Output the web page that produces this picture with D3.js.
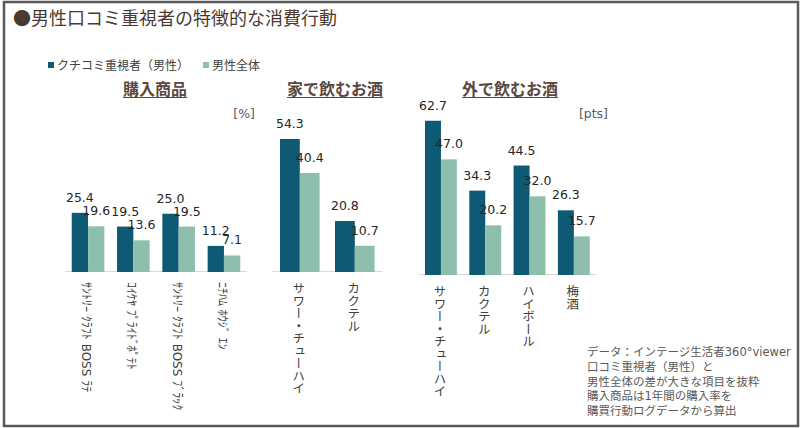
<!DOCTYPE html>
<html>
<head>
<meta charset="utf-8">
<script src="https://cdn.jsdelivr.net/npm/d3@7"></script>
<style>
	body { margin: 0; background: #fff; }
	text { font-family: "DejaVu Sans", "Noto Sans CJK JP", sans-serif; }
	.vlabel { writing-mode: vertical-rl; }
</style>
</head>
<body>
<svg id="chart" width="800" height="428"></svg>
<script>
// data
const seriesNames = ["クチコミ重視者（男性）", "男性全体"];

const goodsCats = ["ｻﾝﾄﾘｰ ｸﾗﾌﾄ BOSS ﾗﾃ", "ｺｲｹﾔ ﾌﾟﾗｲﾄﾞﾎﾟﾃﾄ", "ｻﾝﾄﾘｰ ｸﾗﾌﾄ BOSS ﾌﾞﾗｯｸ", "ﾆﾁﾊﾑ ﾎｳｼﾞ ｴﾝ"];
const goodsKuchikomi = [25.4, 19.5, 25.0, 11.2];
const goodsAll = [19.6, 13.6, 19.5, 7.1];

const homeCats = ["サワー・チューハイ", "カクテル"];
const homeKuchikomi = [54.3, 20.8];
const homeAll = [40.4, 10.7];

const outCats = ["サワー・チューハイ", "カクテル", "ハイボール", "梅酒"];
const outKuchikomi = [62.7, 34.3, 44.5, 26.3];
const outAll = [47.0, 20.2, 32.0, 15.7];

const panelTitles = ["購入商品", "家で飲むお酒", "外で飲むお酒"];
const unitLabels = ["[%]", "", "[pts]"];

const noteLines = [
	"データ：インテージ生活者360°viewer",
	"口コミ重視者（男性）と",
	"男性全体の差が大きな項目を抜粋",
	"購入商品は1年間の購入率を",
	"購買行動ログデータから算出"
];

const colors = ["#0e5a74", "#8ebfac"];
const brown = "#4b3a32";
const fmt = d3.format(".1f");

const svg = d3.select("#chart");

// frame
svg.append("rect")
	.attr("x", 4).attr("y", 2).attr("width", 794).attr("height", 424)
	.attr("fill", "none").attr("stroke", "#595959").attr("stroke-width", 2.5);

// title
svg.append("text")
	.attr("x", 13).attr("y", 25)
	.attr("fill", brown)
	.style("font-family", "'Noto Sans CJK JP'")
	.style("font-size", "18px")
	.text("●男性口コミ重視者の特徴的な消費行動");

// legend
const legendX = [48, 203];
const legend = svg.selectAll("g.legend")
	.data(seriesNames)
	.join("g")
	.attr("class", "legend")
	.attr("transform", (d, i) => "translate(" + legendX[i] + ",62)");
legend.append("rect").attr("width", 6).attr("height", 6).attr("fill", (d, i) => colors[i]);
legend.append("text")
	.attr("x", 9).attr("y", 8)
	.attr("fill", "#404040")
	.style("font-family", "'Noto Sans CJK JP'")
	.style("font-size", "12px")
	.text((d) => d);

// panels
const panels = [
	{ cats: goodsCats, values: [goodsKuchikomi, goodsAll], x0: 65.4, x1: 246.6, base: 272, k: 2.33, titleX: 155, unitX: 255, catSize: 12 },
	{ cats: homeCats, values: [homeKuchikomi, homeAll], x0: 272.3, x1: 382.3, base: 272, k: 2.45, titleX: 335, unitX: 0, catSize: 12.5 },
	{ cats: outCats, values: [outKuchikomi, outAll], x0: 418.8, x1: 596, base: 275, k: 2.46, titleX: 510, unitX: 608, catSize: 12.5 }
];

panels.forEach((p, pi) => {
	const g = svg.append("g");

	const x = d3.scaleBand().domain(p.cats).range([p.x0, p.x1]).paddingInner(0.28).paddingOuter(0.14);
	const xSub = d3.scaleBand().domain([0, 1]).range([0, x.bandwidth()]);
	const y = d3.scaleLinear().domain([0, 100]).range([p.base, p.base - 100 * p.k]);

	const rows = [];
	p.cats.forEach((c, ci) => {
		p.values.forEach((vals, si) => rows.push({ cat: c, s: si, v: vals[ci] }));
	});

	g.append("line")
		.attr("x1", p.x0).attr("x2", p.x1)
		.attr("y1", y(0) - 0.5).attr("y2", y(0) - 0.5)
		.attr("stroke", "#d9d9d9");

	g.selectAll("rect.bar")
		.data(rows)
		.join("rect")
		.attr("class", "bar")
		.attr("x", (d) => x(d.cat) + xSub(d.s))
		.attr("width", xSub.bandwidth())
		.attr("y", (d) => y(d.v))
		.attr("height", (d) => y(0) - y(d.v))
		.attr("fill", (d) => colors[d.s]);

	g.selectAll("text.val")
		.data(rows)
		.join("text")
		.attr("class", "val")
		.attr("x", (d) => x(d.cat) + xSub(d.s) + xSub.bandwidth() / 2)
		.attr("y", (d) => y(d.v) - 11)
		.attr("text-anchor", "middle")
		.attr("fill", "#262626")
		.style("font-size", "12.5px")
		.text((d) => fmt(d.v));

	g.selectAll("text.cat")
		.data(p.cats)
		.join("text")
		.attr("class", "cat vlabel")
		.attr("x", (d) => x(d) + x.bandwidth() / 2 - 2)
		.attr("y", p.base + 10)
		.attr("fill", "#404040")
		.style("font-size", p.catSize + "px")
		.text((d) => d);

	const title = g.append("text")
		.attr("x", p.titleX).attr("y", 95)
		.attr("text-anchor", "middle")
		.attr("fill", "#5a4840")
		.style("font-family", "'Noto Sans CJK JP'")
		.style("font-weight", "bold")
		.style("font-size", "16px")
		.text(panelTitles[pi]);
	const tw = title.node().getComputedTextLength();
	g.append("line")
		.attr("x1", p.titleX - tw / 2).attr("x2", p.titleX + tw / 2)
		.attr("y1", 97.5).attr("y2", 97.5)
		.attr("stroke", "#5a4840").attr("stroke-width", 1);

	if (unitLabels[pi]) {
		g.append("text")
			.attr("x", p.unitX).attr("y", 118)
			.attr("text-anchor", "end")
			.attr("fill", "#595959")
			.style("font-size", "12.5px")
			.text(unitLabels[pi]);
	}
});

// note
svg.append("g")
	.selectAll("text")
	.data(noteLines)
	.join("text")
	.attr("x", 587)
	.attr("y", (d, i) => 356 + i * 14.8)
	.attr("fill", "#595959")
	.style("font-size", "11.5px")
	.text((d) => d);
</script>
</body>
</html>
